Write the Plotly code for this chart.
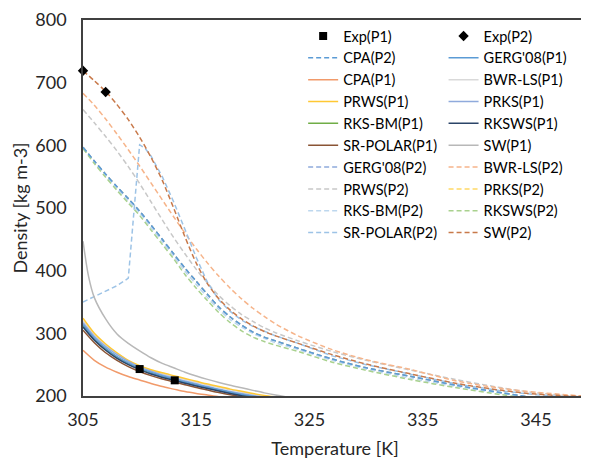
import plotly.graph_objects as go

# ---------------- data ----------------
T_exp1 = [310.0, 313.1]
rho_exp1 = [243, 225]
T_exp2 = [305.0, 307.0]
rho_exp2 = [719, 685]

T_p1 = [305, 306, 307, 308, 309, 310, 311, 312, 313, 314, 315, 316, 317, 318, 319, 320, 321, 322, 324, 327]
cpa_p1 = [273, 257, 246, 238, 231, 225.5, 220, 215, 211, 207, 204, 201.5, 199, 197, 195, 193, 191, 189.5, 186, 182]
prws_p1 = [324, 300, 283, 269, 257, 248.5, 242, 237, 232.5, 228, 223.5, 219, 215, 211, 207.5, 204, 201, 198.5, 194, 188]
bwrls_p1 = [320, 297, 281, 268, 256, 247.5, 241, 235.5, 231, 226.5, 222, 217.5, 213.5, 210, 206.5, 203, 200, 197.5, 193, 187]
prks_p1 = [317, 295, 279, 266, 255, 246, 239.5, 233.5, 229, 224, 219.5, 215, 211, 207, 204, 201, 198, 195.5, 191, 186]
gerg_p1 = [314, 292, 276, 263, 252.5, 244, 237.5, 232, 227, 222.5, 218, 214, 210, 206, 202.5, 199.5, 197, 194.5, 190, 185]
rksbm_p1 = [313, 291, 275, 262, 252, 243.5, 237, 231.5, 226.5, 222, 217.5, 213.5, 209.5, 205.5, 202, 199, 196.5, 194, 189.5, 184.5]
rksws_p1 = [310, 289, 273, 260, 250, 242, 235, 229.5, 225, 220.5, 216, 212, 208, 204, 200.5, 198, 195.5, 193, 189, 184]
srpolar_p1 = [305, 285, 269, 257, 247, 239, 232.5, 227, 222.5, 218, 213.5, 209.5, 205.5, 202, 199, 196.5, 194, 191.5, 187.5, 182.5]

T_sw_p1 = [305, 305.5, 306, 307, 308, 309, 310, 311, 312, 313, 314, 315, 316, 317, 318, 319, 320, 321, 322, 324, 327]
sw_p1 = [447, 390, 357, 323, 299, 284, 272, 261, 252, 245, 238, 232, 226.5, 221.5, 217, 213, 209, 205, 201.5, 195.5, 188]

T_p2 = [305, 306, 307, 308, 309, 310, 311, 312, 313, 314, 315, 316, 317, 318, 319, 320, 321, 322, 324, 327, 330, 334, 338, 342, 345, 348, 351]
sw_p2 = [719, 703, 686, 665, 641, 613, 581, 544, 500, 454, 412, 379, 355, 337, 323, 312, 303, 296, 284, 266, 251, 235, 220, 209, 203, 200, 197]
bwrls_p2 = [683, 664, 642, 618, 593, 567, 540, 513, 486, 460, 435, 412, 391, 372, 355, 340, 327, 315, 296, 274, 258, 242, 224, 212, 206, 201.5, 198]
prws_p2 = [657, 636, 614, 591, 566, 539, 510, 481, 453, 427, 402, 380, 360, 344, 330, 319, 309, 301, 288, 271, 257, 241, 226, 213, 205, 200, 196]
cpa_p2 = [597, 575, 554, 534, 515, 495, 473, 450, 427, 404, 383, 362, 342, 326, 313, 302, 294, 288, 276, 259, 245, 231, 217, 205, 197, 191, 186]
gerg_p2 = [597, 575, 554, 534, 515, 495, 473, 450, 427, 404, 383, 362, 342, 326, 313, 302, 294, 288, 276, 259, 245, 231, 217, 205, 197, 191, 186]
prks_p2 = [597, 575, 554, 534, 515, 495, 473, 450, 427, 404, 383, 362, 342, 326, 313, 302, 294, 288, 276, 259, 245, 231, 217, 205, 197, 191, 186]
rksbm_p2 = [596, 573, 552, 531, 511, 492, 469, 446, 423, 399, 378, 357, 338, 322, 310, 300, 292, 285, 274, 257, 243, 228, 215, 204, 196, 190, 185]
rksws_p2 = [595, 571, 549, 528, 508, 488, 465, 442, 419, 394, 372, 352, 333, 317, 304, 294, 287, 281, 271, 254, 241, 226, 213, 202, 195, 190, 185]

T_srp_p2 = [305, 306, 307, 308, 309, 310, 310.5, 311, 312, 313, 314, 315, 316, 317, 318, 319, 320, 322, 324, 327, 330, 334, 338, 342, 345, 348, 351]
srpolar_p2 = [350, 359, 367, 376, 388, 601, 595, 583, 550, 510, 466, 421, 381, 353, 335, 321, 311, 296, 284, 264, 250, 234, 219, 208, 202, 198, 195]

x_ticks = [305, 315, 325, 335, 345]
y_ticks = [200, 300, 400, 500, 600, 700, 800]

FONT = "Lato"
DASH = "5px,3px"

fig = go.Figure()

def add_line(name, x, y, color, dashed, legend, rank, width=1.5, shape="spline"):
    fig.add_trace(go.Scatter(
        x=x, y=y, name=name, mode="lines",
        line=dict(color=color, width=width, dash=DASH if dashed else "solid",
                  shape=shape, smoothing=0.8 if shape == "spline" else None),
        legend=legend, legendrank=rank, hoverinfo="skip"))

# P2 (dashed) – hidden ones first
add_line("PRKS(P2)", T_p2, prks_p2, "#FFD966", True, "legend2", 8)
add_line("GERG'08(P2)", T_p2, gerg_p2, "#8FAADC", True, "legend", 7)
add_line("RKS-BM(P2)", T_p2, rksbm_p2, "#BDD7EE", True, "legend", 9)
add_line("RKSWS(P2)", T_p2, rksws_p2, "#A9D18E", True, "legend2", 9)
add_line("CPA(P2)", T_p2, cpa_p2, "#5B9BD5", True, "legend", 2)
add_line("PRWS(P2)", T_p2, prws_p2, "#C8C8C8", True, "legend", 8)
add_line("BWR-LS(P2)", T_p2, bwrls_p2, "#F6B48A", True, "legend2", 7)
add_line("SR-POLAR(P2)", T_srp_p2, srpolar_p2, "#9DC3E6", True, "legend", 10, shape="linear")
add_line("SW(P2)", T_p2, sw_p2, "#C8794A", True, "legend2", 10)

# P1 (solid)
add_line("SW(P1)", T_sw_p1, sw_p1, "#B8B8B8", False, "legend2", 6)
add_line("BWR-LS(P1)", T_p1, bwrls_p1, "#D9D9D9", False, "legend2", 3)
add_line("PRWS(P1)", T_p1, prws_p1, "#FFC833", False, "legend", 4)
add_line("RKS-BM(P1)", T_p1, rksbm_p1, "#70AD47", False, "legend", 5)
add_line("PRKS(P1)", T_p1, prks_p1, "#8FAADC", False, "legend2", 4)
add_line("GERG'08(P1)", T_p1, gerg_p1, "#5B9BD5", False, "legend2", 2)
add_line("SR-POLAR(P1)", T_p1, srpolar_p1, "#8A5434", False, "legend", 6)
add_line("RKSWS(P1)", T_p1, rksws_p1, "#2B4468", False, "legend2", 5)
add_line("CPA(P1)", T_p1, cpa_p1, "#F19A6A", False, "legend", 3)

# experimental points
fig.add_trace(go.Scatter(x=T_exp1, y=rho_exp1, name="Exp(P1)", mode="markers",
                         marker=dict(symbol="square", size=8, color="black"),
                         legend="legend", legendrank=1, cliponaxis=False))
fig.add_trace(go.Scatter(x=T_exp2, y=rho_exp2, name="Exp(P2)", mode="markers",
                         marker=dict(symbol="diamond", size=8, color="black"),
                         legend="legend2", legendrank=1, cliponaxis=False))

legend_common = dict(font=dict(family=FONT, size=14.5, color="black"),
                     bgcolor="rgba(0,0,0,0)", borderwidth=0,
                     xanchor="left", yanchor="top", orientation="v",
                     tracegroupgap=0, itemwidth=30)

# the page body adds an 8 px offset, so the figure is 8 px smaller
fig.update_layout(
    width=581, height=451,
    margin=dict(l=75, r=0, t=12, b=63),
    paper_bgcolor="white", plot_bgcolor="white",
    font=dict(family=FONT, size=18, color="#262626"),
    showlegend=True,
    legend=dict(x=0.4368, y=1.0, **legend_common),
    legend2=dict(x=0.7154, y=1.0, **legend_common),
    xaxis=dict(range=[305, 349.5], tickvals=x_ticks, ticks="", showgrid=False, zeroline=False,
               showline=True, linecolor="#404040", linewidth=1.5, mirror=True,
               ticklabelstandoff=7,
               title=dict(text="Temperature [K]", font=dict(family=FONT, size=18), standoff=14)),
    yaxis=dict(range=[200, 800], tickvals=y_ticks, ticks="", showgrid=False, zeroline=False,
               showline=True, linecolor="#404040", linewidth=1.5, mirror=True,
               ticklabelstandoff=11,
               title=dict(text="Density [kg m-3]", font=dict(family=FONT, size=18), standoff=3)),
)

fig.write_html("out.html")
